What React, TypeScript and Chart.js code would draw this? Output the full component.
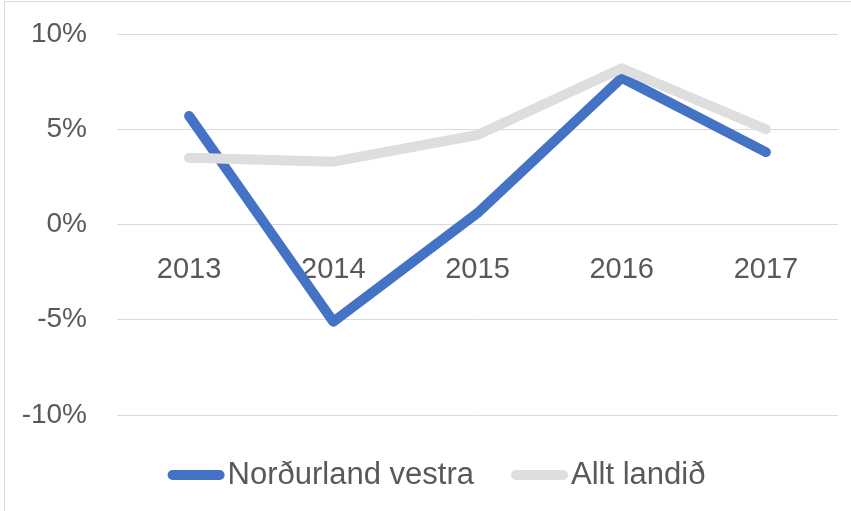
import React, { useEffect, useRef } from "react";
import { Chart, registerables } from "chart.js";

Chart.register(...registerables);

const categories = ["2013", "2014", "2015", "2016", "2017"];
const nordurlandVestra = [5.7, -5.1, 0.6, 7.7, 3.8];
const alltLandid = [3.5, 3.3, 4.7, 8.2, 5.0];
const yTicks = [-10, -5, 0, 5, 10];

const BLUE = "#4472C4";
const GRAY = "#DEDEDE";
const TEXT = "#595959";
const FONT = "'Liberation Sans', Arial, sans-serif";

const legendPlugin = {
  id: "excelLegend",
  afterDraw(chart: any) {
    const ctx = chart.ctx as CanvasRenderingContext2D;
    const datasets = chart.data.datasets as any[];
    const sample = 57;
    const gap = 3;
    const itemGap = 37;
    const cy = 475;
    ctx.save();
    ctx.font = `31px ${FONT}`;
    const widths = datasets.map((d) => ctx.measureText(d.label).width);
    const total =
      widths.reduce((s, w) => s + sample + gap + w, 0) + itemGap * (datasets.length - 1);
    let x = 436.5 - total / 2;
    datasets.forEach((d, i) => {
      ctx.strokeStyle = d.borderColor;
      ctx.lineWidth = 10;
      ctx.lineCap = "round";
      ctx.beginPath();
      ctx.moveTo(x + 5, cy);
      ctx.lineTo(x + sample - 5, cy);
      ctx.stroke();
      ctx.fillStyle = TEXT;
      ctx.textBaseline = "middle";
      ctx.textAlign = "left";
      ctx.fillText(d.label, x + sample + gap, cy);
      x += sample + gap + widths[i] + itemGap;
    });
    ctx.restore();
  },
};

export default function App() {
  const ref = useRef<HTMLCanvasElement | null>(null);

  useEffect(() => {
    if (!ref.current) return;
    const chart = new Chart(ref.current, {
      type: "line",
      data: {
        labels: categories,
        datasets: [
          {
            label: "Norðurland vestra",
            data: nordurlandVestra,
            borderColor: BLUE,
            backgroundColor: BLUE,
            borderWidth: 10,
            borderCapStyle: "round",
            borderJoinStyle: "round",
            pointRadius: 0,
            tension: 0,
            fill: false,
            order: 1,
          },
          {
            label: "Allt landið",
            data: alltLandid,
            borderColor: GRAY,
            backgroundColor: GRAY,
            borderWidth: 10,
            borderCapStyle: "round",
            borderJoinStyle: "round",
            pointRadius: 0,
            tension: 0,
            fill: false,
            order: 0,
          },
        ],
      },
      options: {
        responsive: false,
        animation: false,
        layout: { padding: { left: 0, top: 34, right: 13, bottom: 96 } },
        plugins: {
          legend: { display: false },
          tooltip: { enabled: false },
        },
        scales: {
          x: {
            type: "category",
            position: { y: 0 },
            offset: true,
            grid: { display: false },
            border: { display: false },
            ticks: {
              color: TEXT,
              font: { family: FONT, size: 29 },
              padding: 20,
              maxRotation: 0,
            },
            afterFit(scale: any) {
              scale.height = 0;
            },
          },
          y: {
            min: -10,
            max: 10,
            afterBuildTicks(scale: any) {
              scale.ticks = yTicks.map((v) => ({ value: v }));
            },
            ticks: {
              color: TEXT,
              font: { family: FONT, size: 28 },
              padding: 30,
              callback: (v: any) => `${v}%`,
            },
            grid: { color: "#D9D9D9", lineWidth: 1, drawTicks: false },
            border: { display: false },
            afterFit(scale: any) {
              scale.width = 117;
              scale.paddingTop = 0;
              scale.paddingBottom = 0;
            },
          },
        },
      },
      plugins: [legendPlugin],
    } as any);
    return () => chart.destroy();
  }, []);

  return (
    <div style={{ position: "fixed", left: 0, top: 0, width: 851, height: 511, background: "#fff" }}>
      <canvas ref={ref} width={851} height={511} style={{ display: "block" }} />
      <div
        style={{
          position: "absolute",
          left: 4,
          top: 1,
          width: 847,
          height: 510,
          borderLeft: "1px solid #D9D9D9",
          borderTop: "1px solid #D9D9D9",
          pointerEvents: "none",
        }}
      />
    </div>
  );
}
